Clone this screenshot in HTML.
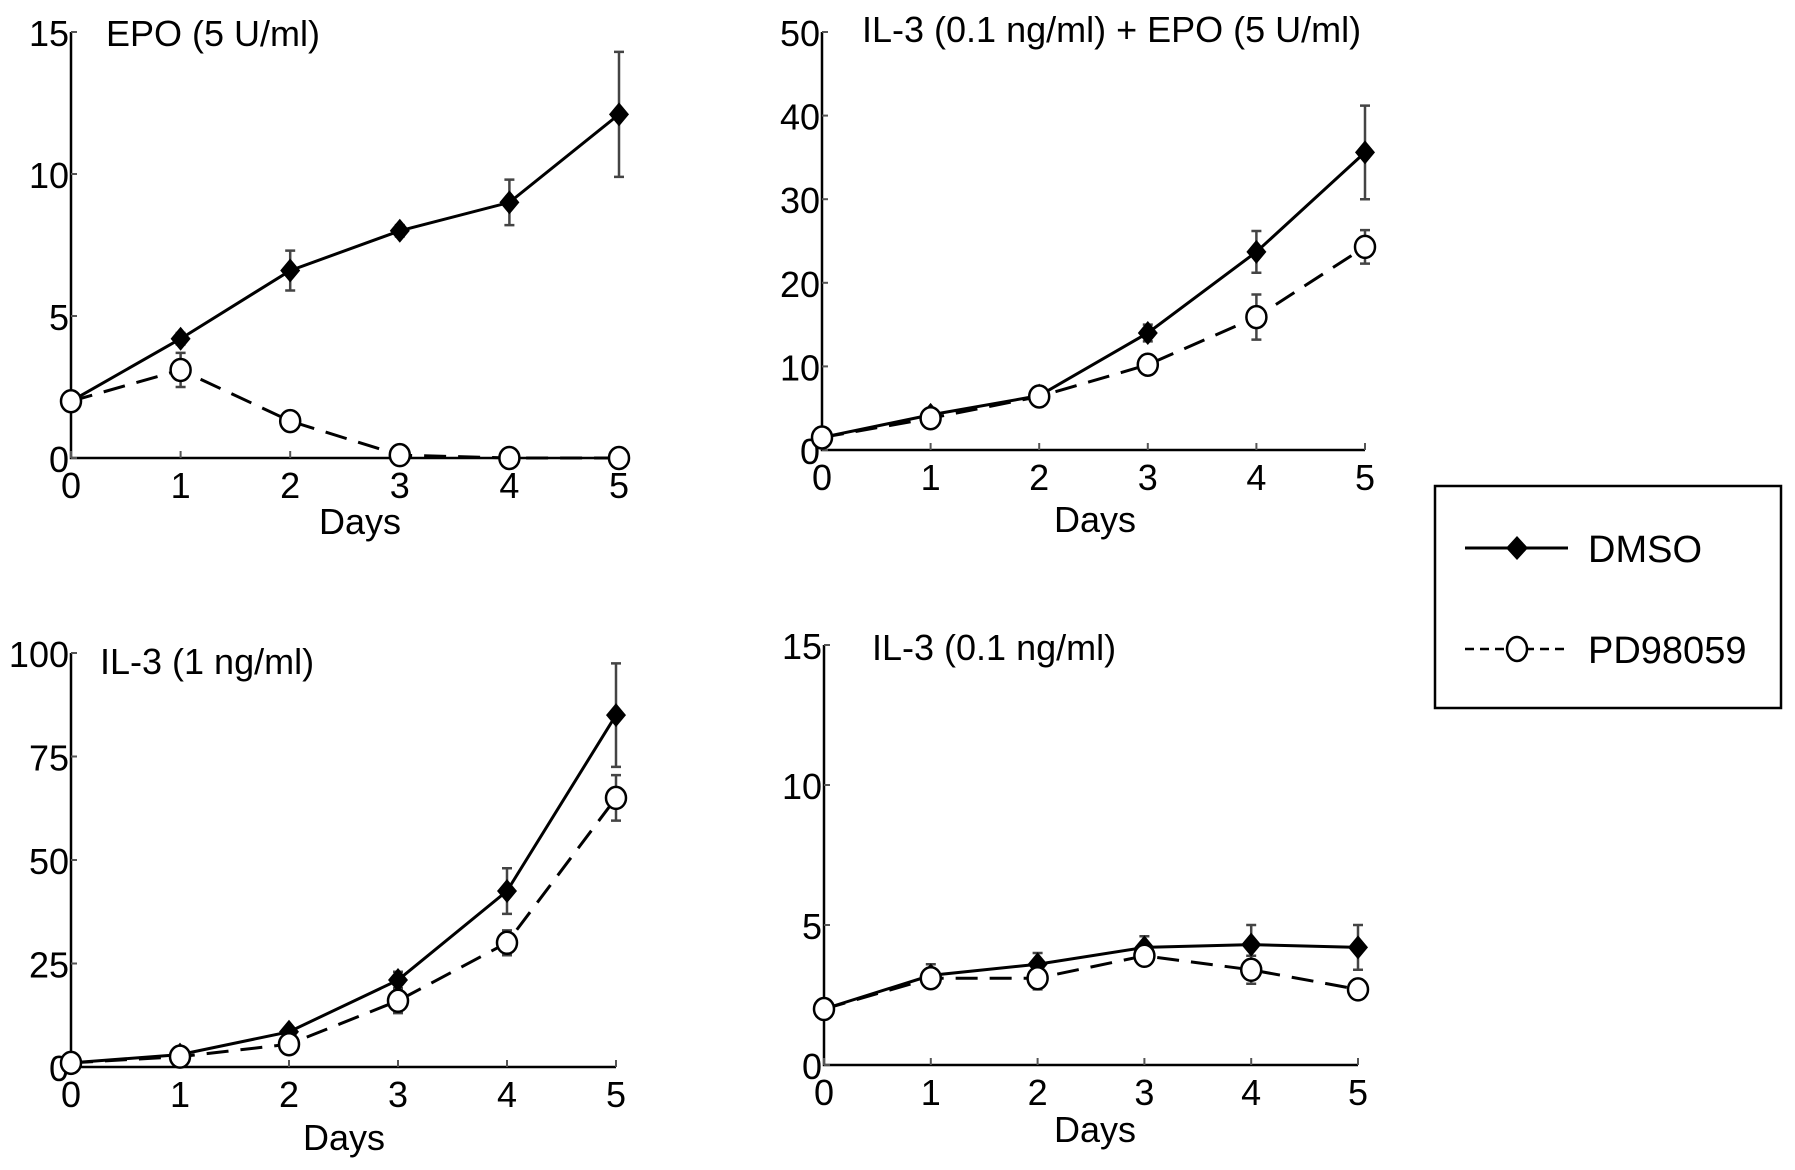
<!DOCTYPE html>
<html><head><meta charset="utf-8"><style>
html,body{margin:0;padding:0;background:#fff;}
svg{display:block;font-family:"Liberation Sans",Arial,sans-serif;}
</style></head><body>
<svg id="fig" width="1795" height="1170" viewBox="0 0 1795 1170"></svg>
<script>
const days = [0,1,2,3,4,5];
const epoDmso = [2,4.2,6.6,8,9,12.1];
const epoDmsoErr = [0,0.2,0.7,0.2,0.8,2.2];
const epoPd = [2,3.1,1.3,0.1,0,0];
const epoPdErr = [0,0.6,0.2,0,0,0];
const mixDmso = [1.5,4.2,6.5,14,23.7,35.6];
const mixDmsoErr = [0.3,0.5,0.5,1,2.5,5.6];
const mixPd = [1.5,3.8,6.4,10.2,15.9,24.3];
const mixPdErr = [0,0.5,0.5,1,2.7,2];
const il3hiDmso = [1,3,8.5,21,42.5,85];
const il3hiDmsoErr = [0,0.5,1,2,5.5,12.5];
const il3hiPd = [1,2.5,5.5,16,30,65];
const il3hiPdErr = [0,0.5,1,3,3,5.5];
const il3loDmso = [2,3.2,3.6,4.2,4.3,4.2];
const il3loDmsoErr = [0,0.4,0.4,0.4,0.7,0.8];
const il3loPd = [2,3.1,3.1,3.9,3.4,2.7];
const il3loPdErr = [0,0.3,0.4,0.2,0.5,0.2];
const ticksA = [0,5,10,15];
const ticksB = [0,10,20,30,40,50];
const ticksC = [0,25,50,75,100];

const NS="http://www.w3.org/2000/svg";
const svg=document.getElementById('fig');
function mk(tag,attrs,parent){const e=document.createElementNS(NS,tag);for(const k in attrs)e.setAttribute(k,attrs[k]);(parent||svg).appendChild(e);return e;}
function txt(s,x,y,size,anchor,parent){const t=mk('text',{x:x,y:y,'font-size':size,'text-anchor':anchor||'start',fill:'#000'},parent);t.textContent=s;return t;}

const FS=36;
const panels=[
 {name:'epo',title:'EPO (5 U/ml)',x0:71,x5:619,y0:458,yTop:32,max:15,ticks:ticksA,d:epoDmso,de:epoDmsoErr,p:epoPd,pe:epoPdErr,tx:106,ty:46,dx:360,dy:534},
 {name:'il3-epo',title:'IL-3 (0.1 ng/ml) + EPO (5 U/ml)',x0:822,x5:1365,y0:450,yTop:32,max:50,ticks:ticksB,d:mixDmso,de:mixDmsoErr,p:mixPd,pe:mixPdErr,tx:862,ty:42,dx:1095,dy:532},
 {name:'il3-high',title:'IL-3 (1 ng/ml)',x0:71,x5:616,y0:1067,yTop:653,max:100,ticks:ticksC,d:il3hiDmso,de:il3hiDmsoErr,p:il3hiPd,pe:il3hiPdErr,tx:100,ty:674,dx:344,dy:1150},
 {name:'il3-low',title:'IL-3 (0.1 ng/ml)',x0:824,x5:1358,y0:1065,yTop:645,max:15,ticks:ticksA,d:il3loDmso,de:il3loDmsoErr,p:il3loPd,pe:il3loPdErr,tx:872,ty:660,dx:1095,dy:1142}
];

panels.forEach(P=>{
 const g=mk('g',{});
 
 
 const xs=d=>P.x0+(P.x5-P.x0)*d/5;
 const ys=v=>P.y0-(P.y0-P.yTop)*v/P.max;
 const ax=mk('path',{d:`M${P.x0},${P.yTop}V${P.y0}H${P.x5}`,stroke:'#000','stroke-width':2.5,fill:'none'},g);
 
 
 P.ticks.forEach(t=>{
  mk('line',{x1:P.x0,x2:P.x0+6,y1:ys(t),y2:ys(t),stroke:'#555','stroke-width':2},g);
  const l=txt(String(t),P.x0-2,ys(t)+14,FS,'end',g);
  
  
 });
 days.forEach(d=>{
  mk('line',{x1:xs(d),x2:xs(d),y1:P.y0,y2:P.y0-7,stroke:'#555','stroke-width':2},g);
  const l=txt(String(d),xs(d),P.y0+40,FS,'middle',g);
  
  
 });
 const tt=txt(P.title,P.tx,P.ty,FS,'start',g);
 
 
 const dl=txt('Days',P.dx,P.dy,FS,'middle',g);
 
 
 [[P.d,P.de],[P.p,P.pe]].forEach(([v,e])=>{
  days.forEach((d,i)=>{ if(e[i]<=0.05) return;
   const x=xs(d),a=ys(v[i]+e[i]),b=ys(Math.max(0,v[i]-e[i]));
   const eb=mk('path',{d:`M${x},${a}V${b}M${x-5},${a}H${x+5}M${x-5},${b}H${x+5}`,stroke:'#444','stroke-width':2.5,fill:'none'},g);
   
   
  });
 });
 const pdLine=mk('polyline',{points:days.map((d,i)=>xs(d)+','+ys(P.p[i])).join(' '),fill:'none',stroke:'#000','stroke-width':3,'stroke-dasharray':'22,12'},g);
 
 
 const dmLine=mk('polyline',{points:days.map((d,i)=>xs(d)+','+ys(P.d[i])).join(' '),fill:'none',stroke:'#000','stroke-width':3},g);
 
 
 days.forEach((d,i)=>{
  const x=xs(d),y=ys(P.d[i]);
  const m=mk('path',{d:`M${x},${y-12}L${x+10},${y}L${x},${y+12}L${x-10},${y}Z`,fill:'#000'},g);
  
  
 });
 days.forEach((d,i)=>{
  const c=mk('ellipse',{cx:xs(d),cy:ys(P.p[i]),rx:10,ry:11,fill:'#fff',stroke:'#000','stroke-width':2.5},g);
  
  
 });
});

const lg=mk('g',{});


mk('rect',{x:1435,y:486,width:346,height:222,fill:'#fff',stroke:'#000','stroke-width':2.5},lg);
mk('line',{x1:1465,x2:1568,y1:548,y2:548,stroke:'#000','stroke-width':3},lg);
mk('path',{d:'M1517,536L1528,548L1517,560L1506,548Z',fill:'#000'},lg);
const t1=txt('DMSO',1588,562,38,'start',lg);


mk('line',{x1:1465,x2:1568,y1:649,y2:649,stroke:'#000','stroke-width':2.5,'stroke-dasharray':'9,6'},lg);
mk('ellipse',{cx:1517,cy:649,rx:10,ry:12,fill:'#fff',stroke:'#000','stroke-width':2.5},lg);
const t2=txt('PD98059',1588,663,38,'start',lg);


</script>
</body></html>
